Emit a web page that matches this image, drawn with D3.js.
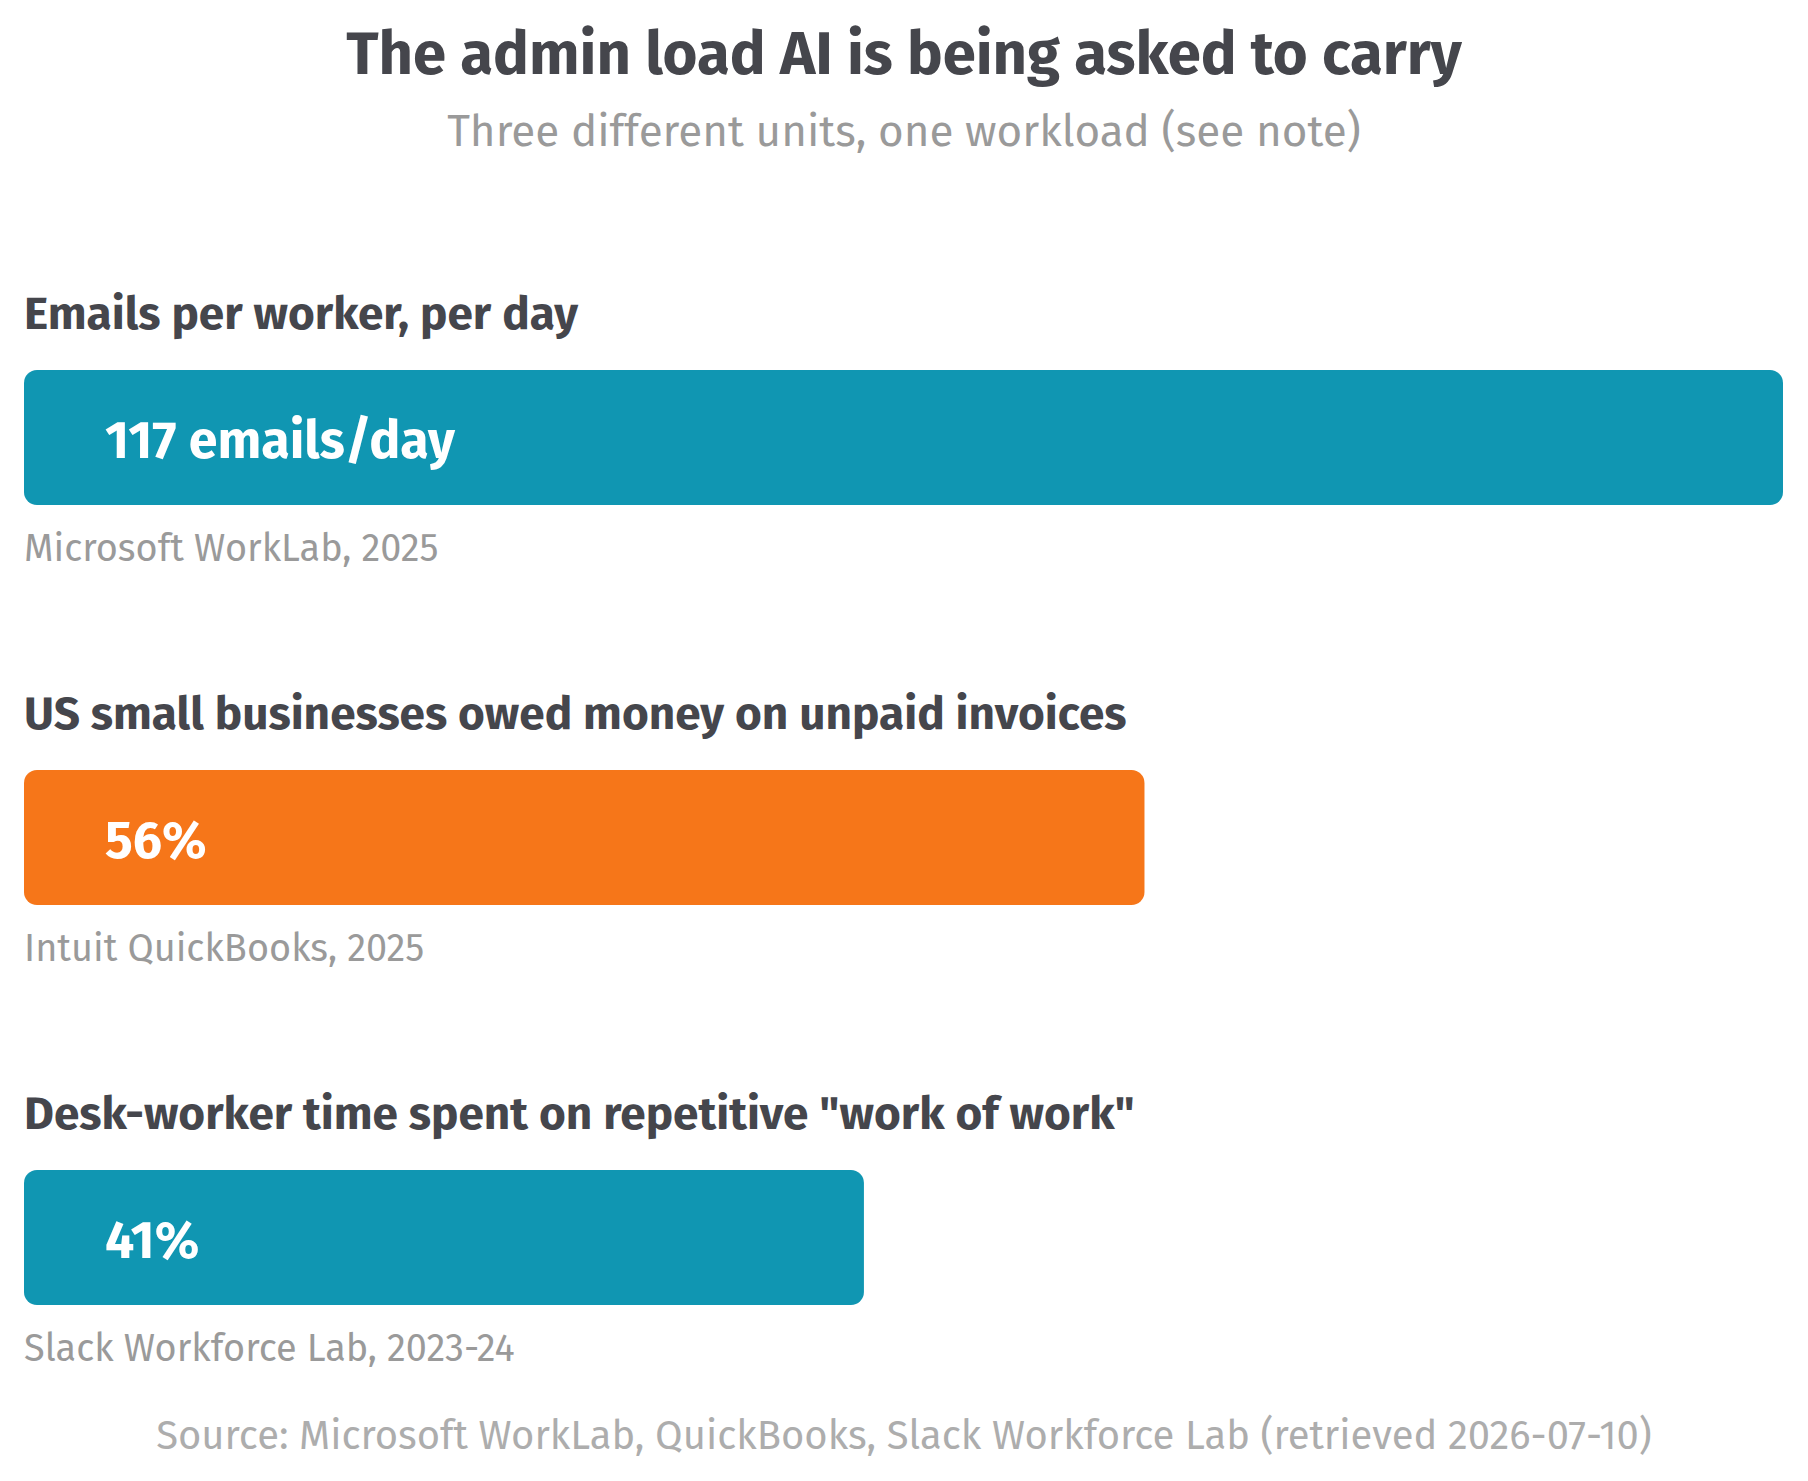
<!DOCTYPE html>
<html>
<head>
<meta charset="utf-8">
<script src="https://cdn.jsdelivr.net/npm/d3@7"></script>
<style>
  html, body { margin: 0; padding: 0; background: #ffffff; }
  svg { display: block; }
</style>
</head>
<body>
<script>
// ---- Data ----
const categories = [
  "Emails per worker, per day",
  "US small businesses owed money on unpaid invoices",
  "Desk-worker time spent on repetitive \"work of work\""
];
const values = [117, 56, 41];
const valueLabels = ["117 emails/day", "56%", "41%"];
// Bar length, relative to the longest bar (=100)
const relativeLength = [100, 63.7, 47.75];
const sources = ["Microsoft WorkLab, 2025", "Intuit QuickBooks, 2025", "Slack Workforce Lab, 2023-24"];
const colors = ["#1096b2", "#f67619", "#1096b2"];
const title = "The admin load AI is being asked to carry";
const subtitle = "Three different units, one workload (see note)";
const footer = "Source: Microsoft WorkLab, QuickBooks, Slack Workforce Lab (retrieved 2026-07-10)";

// ---- Layout ----
const W = 1808, H = 1481;
const FONT = "'Fira Sans', 'Open Sans', 'Noto Sans', sans-serif";
const dark = "#45464c";

const svg = d3.select("body").append("svg")
  .attr("width", W).attr("height", H)
  .attr("viewBox", `0 0 ${W} ${H}`)
  .style("font-family", FONT);

const x = d3.scaleLinear().domain([0, 100]).range([24, 1783]);
const y = d3.scalePoint().domain(categories).range([370, 1170]);
const barH = 135;

function fitClass(sel, refNode, target) {
  const w = refNode.getComputedTextLength();
  const fs = parseFloat(d3.select(refNode).attr("font-size"));
  const nfs = fs * target / w;
  sel.attr("font-size", nfs);
}

// Title
const t = svg.append("text")
  .attr("x", W / 2).attr("y", 74)
  .attr("text-anchor", "middle")
  .attr("font-size", 56).attr("font-weight", 700)
  .attr("fill", dark)
  .text(title);
fitClass(t, t.node(), 1116);

const st = svg.append("text")
  .attr("x", W / 2).attr("y", 146)
  .attr("text-anchor", "middle")
  .attr("font-size", 40).attr("font-weight", 400)
  .attr("fill", "#9a9a9a")
  .text(subtitle);
fitClass(st, st.node(), 914);

const g = svg.append("g");
const rows = g.selectAll("g.row").data(categories).join("g").attr("class", "row");

// Category labels
const labels = rows.append("text")
  .attr("x", 24)
  .attr("y", d => y(d) - 41)
  .attr("font-size", 44).attr("font-weight", 700)
  .attr("fill", dark)
  .text(d => d);
fitClass(labels, labels.nodes()[2], 1111);

// Bars
rows.append("rect")
  .attr("x", x(0))
  .attr("y", d => y(d))
  .attr("width", (d, i) => x(relativeLength[i]) - x(0))
  .attr("height", barH)
  .attr("rx", 13).attr("ry", 13)
  .attr("fill", (d, i) => colors[i]);

// Value labels
const vals = rows.append("text")
  .attr("x", x(0) + 81)
  .attr("y", d => y(d) + 88)
  .attr("font-size", 50).attr("font-weight", 700)
  .attr("fill", "#ffffff")
  .text((d, i) => valueLabels[i]);
fitClass(vals, vals.nodes()[0], 350);

// Source notes
const srcs = rows.append("text")
  .attr("x", 24)
  .attr("y", d => y(d) + 191)
  .attr("font-size", 34).attr("font-weight", 400)
  .attr("fill", "#9a9a9a")
  .text((d, i) => sources[i]);
fitClass(srcs, srcs.nodes()[2], 491);

// Footer
const ft = svg.append("text")
  .attr("x", W / 2).attr("y", 1449)
  .attr("text-anchor", "middle")
  .attr("font-size", 36).attr("font-weight", 400)
  .attr("fill", "#adadad")
  .text(footer);
fitClass(ft, ft.node(), 1496);
</script>
</body>
</html>
